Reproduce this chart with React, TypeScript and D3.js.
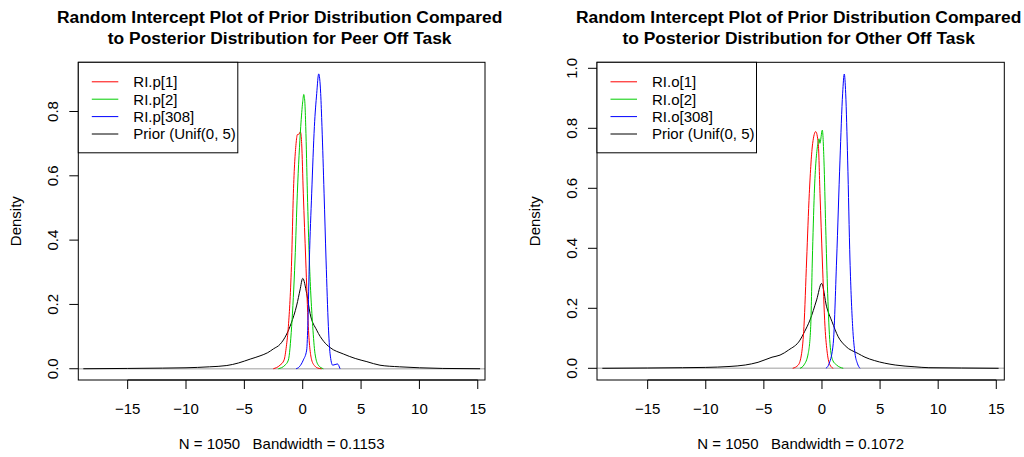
import React from "react";
import * as d3 from "d3";

// ---------- data ----------
const xTicks = [-15, -10, -5, 0, 5, 10, 15];
const leftYTicks = [0, 0.2, 0.4, 0.6, 0.8];
const rightYTicks = [0, 0.2, 0.4, 0.6, 0.8, 1.0];

const leftTitle = [
  "Random Intercept Plot of Prior Distribution Compared",
  "to Posterior Distribution for Peer Off Task",
];
const rightTitle = [
  "Random Intercept Plot of Prior Distribution Compared",
  "to Posterior Distribution for Other Off Task",
];
const leftSub = "N = 1050   Bandwidth = 0.1153";
const rightSub = "N = 1050   Bandwidth = 0.1072";
const leftLegend = ["RI.p[1]", "RI.p[2]", "RI.p[308]", "Prior (Unif(0, 5)"];
const rightLegend = ["RI.o[1]", "RI.o[2]", "RI.o[308]", "Prior (Unif(0, 5)"];
const seriesColors = ["#FF0000", "#00CD00", "#0000FF", "#000000"];

const leftXDomain = [-19.23, 15.62];
const leftYDomain = [-0.035, 0.953];
const rightXDomain = [-19.36, 15.69];
const rightYDomain = [-0.039, 1.02];

const leftP1: [number, number][] = [
  [-2.52, 0], [-1.95, 0.011], [-1.6, 0.027], [-1.4, 0.07], [-1.23, 0.131],
  [-0.95, 0.338], [-0.8, 0.546], [-0.57, 0.7], [-0.46, 0.728], [-0.3, 0.73],
  [-0.22, 0.737], [-0.17, 0.734], [-0.09, 0.7], [0.05, 0.546], [0.26, 0.338],
  [0.48, 0.131], [0.77, 0.027], [1.05, 0.008], [1.3, 0.002], [1.63, 0],
];
const leftP2: [number, number][] = [
  [-2.09, 0], [-1.52, 0.011], [-1.23, 0.027], [-0.95, 0.131], [-0.66, 0.338],
  [-0.46, 0.546], [-0.17, 0.753], [0.0, 0.83], [0.09, 0.853], [0.18, 0.83],
  [0.26, 0.753], [0.4, 0.546], [0.57, 0.338], [0.86, 0.131], [1.05, 0.048],
  [1.34, 0.011], [1.77, 0],
];
const leftP308: [number, number][] = [
  [-0.57, 0], [-0.29, 0.006], [0.05, 0.027], [0.34, 0.058], [0.45, 0.15],
  [0.57, 0.338], [0.77, 0.546], [1.0, 0.753], [1.2, 0.856], [1.37, 0.917],
  [1.54, 0.856], [1.65, 0.753], [1.83, 0.546], [2.0, 0.338], [2.2, 0.131],
  [2.34, 0.048], [2.57, 0.011], [2.97, 0.015], [3.2, 0],
];
const leftPrior: [number, number][] = [
  [-18.8, 0], [-15, 0.001], [-12, 0.002], [-10, 0.003], [-8, 0.006],
  [-6.5, 0.01], [-5.5, 0.018], [-4.5, 0.03], [-3.66, 0.04], [-3, 0.05],
  [-2.5, 0.062], [-1.94, 0.076], [-1.37, 0.108], [-1.0, 0.14], [-0.51, 0.198],
  [-0.23, 0.245], [0.0, 0.281], [0.34, 0.234], [0.63, 0.172], [1.2, 0.12],
  [1.8, 0.085], [2.34, 0.066], [3.48, 0.046], [4.5, 0.032], [5.5, 0.022],
  [6.62, 0.011], [8.3, 0.006], [10, 0.003], [12, 0.001], [15.2, 0],
];

const rightO1: [number, number][] = [
  [-2.52, 0], [-2.04, 0.011], [-1.75, 0.05], [-1.55, 0.139], [-1.32, 0.361],
  [-1.09, 0.583], [-0.8, 0.75], [-0.54, 0.789], [-0.32, 0.75], [-0.17, 0.583],
  [0.03, 0.361], [0.26, 0.139], [0.46, 0.05], [0.69, 0.011], [0.97, 0],
];
const rightO2: [number, number][] = [
  [-1.89, 0], [-1.55, 0.011], [-1.18, 0.05], [-0.97, 0.139], [-0.83, 0.361],
  [-0.66, 0.583], [-0.37, 0.745], [-0.25, 0.765], [-0.18, 0.75], [0.03, 0.794],
  [0.17, 0.694], [0.32, 0.472], [0.49, 0.25], [0.69, 0.083], [0.92, 0.027],
  [1.26, 0.011], [1.83, 0],
];
const rightO308: [number, number][] = [
  [0.34, 0], [0.63, 0.017], [0.97, 0.083], [1.26, 0.361], [1.55, 0.694],
  [1.78, 0.917], [1.92, 0.981], [2.04, 0.917], [2.21, 0.694], [2.41, 0.361],
  [2.64, 0.139], [2.84, 0.05], [3.04, 0.017], [3.27, 0],
];
const rightPrior: [number, number][] = [
  [-18.9, 0], [-15, 0.001], [-12, 0.002], [-10, 0.003], [-8, 0.006],
  [-6.6, 0.011], [-5.5, 0.02], [-4.3, 0.037], [-3.61, 0.044], [-2.87, 0.061],
  [-1.89, 0.094], [-1.5, 0.122], [-1.03, 0.161], [-0.46, 0.228], [-0.03, 0.283],
  [0.4, 0.205], [0.86, 0.156], [1.4, 0.105], [2.0, 0.075], [3.12, 0.049],
  [3.7, 0.037], [4.5, 0.026], [6.3, 0.011], [8, 0.005], [9.2, 0.002],
  [12, 0.001], [15.2, 0],
];

// ---------- layout ----------
const W = 1024;
const H = 457;
const FONT = "'Liberation Sans', Arial, Helvetica, sans-serif";
const BASE = 15;
const TITLE = 17.4;

type PanelProps = {
  id: string;
  left: number;
  right: number;
  top: number;
  bottom: number;
  xDomain: number[];
  yDomain: number[];
  yTicks: number[];
  title: string[];
  sub: string;
  legend: string[];
  series: [number, number][][];
};

const fmtY = (v: number) => v.toFixed(1);
const fmtX = (v: number) => (v < 0 ? "\u2212" + Math.abs(v) : String(v));

function Panel(p: PanelProps) {
  const x = d3.scaleLinear().domain(p.xDomain).range([p.left, p.right]);
  const y = d3.scaleLinear().domain(p.yDomain).range([p.bottom, p.top]);
  const line = d3
    .line<[number, number]>()
    .x((d) => x(d[0]))
    .y((d) => y(d[1]))
    .curve(d3.curveMonotoneX);
  const cx = (p.left + p.right) / 2;
  const cy = (p.top + p.bottom) / 2;
  const tickLen = 9;
  const order = [3, 0, 1, 2];
  return (
    <g>
      <defs>
        <clipPath id={p.id}>
          <rect x={p.left} y={p.top} width={p.right - p.left} height={p.bottom - p.top} />
        </clipPath>
      </defs>
      {p.title.map((t, i) => (
        <text
          key={i}
          x={cx - 2}
          y={22.7 + i * 21.3}
          textAnchor="middle"
          fontFamily={FONT}
          fontWeight="bold"
          fontSize={TITLE}
          fill="#000"
        >
          {t}
        </text>
      ))}
      <g clipPath={`url(#${p.id})`}>
        <line
          x1={p.left}
          x2={p.right}
          y1={y(0)}
          y2={y(0)}
          stroke="#BEBEBE"
          strokeWidth={1.5}
        />
        {order.map((k) => (
          <path
            key={k}
            d={line(p.series[k]) || ""}
            fill="none"
            stroke={seriesColors[k]}
            strokeWidth={1}
          />
        ))}
      </g>
      <rect
        x={p.left}
        y={p.top}
        width={p.right - p.left}
        height={p.bottom - p.top}
        fill="none"
        stroke="#000"
        strokeWidth={1}
      />
      <line
        x1={x(xTicks[0])}
        x2={x(xTicks[xTicks.length - 1])}
        y1={p.bottom}
        y2={p.bottom}
        stroke="#000"
      />
      {xTicks.map((t) => (
        <g key={t}>
          <line x1={x(t)} x2={x(t)} y1={p.bottom} y2={p.bottom + tickLen} stroke="#000" />
          <text
            x={x(t)}
            y={p.bottom + 34.4}
            textAnchor="middle"
            fontFamily={FONT}
            fontSize={BASE}
            fill="#000"
          >
            {fmtX(t)}
          </text>
        </g>
      ))}
      {p.yTicks.map((t) => (
        <g key={t}>
          <line x1={p.left - tickLen} x2={p.left} y1={y(t)} y2={y(t)} stroke="#000" />
          <text
            transform={`translate(${p.left - 20},${y(t)}) rotate(-90)`}
            textAnchor="middle"
            fontFamily={FONT}
            fontSize={BASE}
            fill="#000"
          >
            {fmtY(t)}
          </text>
        </g>
      ))}
      <text
        transform={`translate(${p.left - 57.5},${cy}) rotate(-90)`}
        textAnchor="middle"
        fontFamily={FONT}
        fontSize={BASE}
        fill="#000"
      >
        Density
      </text>
      <text
        x={cx}
        y={p.bottom + 69.4}
        textAnchor="middle"
        fontFamily={FONT}
        fontSize={BASE}
        fill="#000"
        style={{ whiteSpace: "pre" }}
      >
        {p.sub}
      </text>
      <rect
        x={p.left}
        y={p.top}
        width={159.5}
        height={90.5}
        fill="#fff"
        stroke="#000"
        strokeWidth={1}
      />
      {p.legend.map((s, i) => {
        const ly = p.top + 19.5 + i * 17.4;
        return (
          <g key={s}>
            <line
              x1={p.left + 13.5}
              x2={p.left + 40}
              y1={ly}
              y2={ly}
              stroke={seriesColors[i]}
              strokeWidth={1}
            />
            <text
              x={p.left + 55}
              y={ly + 5.4}
              fontFamily={FONT}
              fontSize={BASE}
              fill="#000"
            >
              {s}
            </text>
          </g>
        );
      })}
    </g>
  );
}

export default function App() {
  return (
    <svg
      width={W}
      height={H}
      viewBox={`0 0 ${W} ${H}`}
      style={{ position: "absolute", left: 0, top: 0, background: "#fff" }}
    >
      <rect x={0} y={0} width={W} height={H} fill="#fff" />
      <Panel
        id="clipL"
        left={78.3}
        right={485}
        top={62.3}
        bottom={380}
        xDomain={leftXDomain}
        yDomain={leftYDomain}
        yTicks={leftYTicks}
        title={leftTitle}
        sub={leftSub}
        legend={leftLegend}
        series={[leftP1, leftP2, leftP308, leftPrior]}
      />
      <Panel
        id="clipR"
        left={597}
        right={1004.3}
        top={62.3}
        bottom={380}
        xDomain={rightXDomain}
        yDomain={rightYDomain}
        yTicks={rightYTicks}
        title={rightTitle}
        sub={rightSub}
        legend={rightLegend}
        series={[rightO1, rightO2, rightO308, rightPrior]}
      />
    </svg>
  );
}
